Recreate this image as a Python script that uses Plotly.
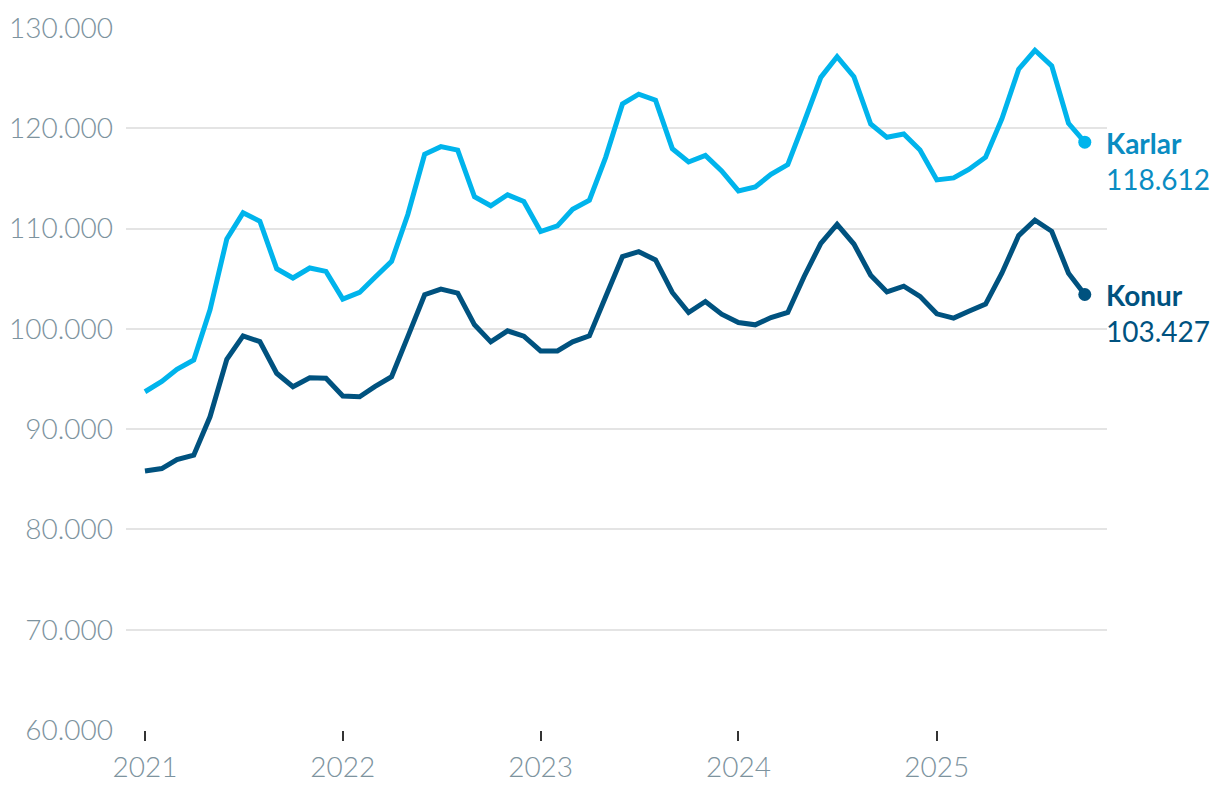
import plotly.graph_objects as go
import pandas as pd

months = pd.date_range("2021-01-01", periods=58, freq="MS").strftime("%Y-%m-%d").tolist()

karlar = [
    93.73, 94.75, 95.97, 96.9, 101.9, 108.97, 111.57, 110.73, 106.0, 105.07,
    106.07, 105.73, 102.97, 103.63, 105.13, 106.73, 111.4, 117.4, 118.17, 117.83,
    113.17, 112.27, 113.37, 112.7, 109.7, 110.27, 111.93, 112.83, 117.1, 122.43,
    123.4, 122.8, 117.97, 116.64, 117.3, 115.75, 113.75, 114.15, 115.4, 116.38,
    120.6, 125.08, 127.14, 125.15, 120.43, 119.1, 119.43, 117.84, 114.85, 115.05,
    115.9, 117.12, 120.93, 125.89, 127.78, 126.23, 120.5, 118.612,
]
konur = [
    85.83, 86.07, 86.97, 87.4, 91.23, 96.97, 99.3, 98.73, 95.57, 94.23,
    95.13, 95.07, 93.3, 93.23, 94.23, 95.23, 99.23, 103.4, 103.97, 103.57,
    100.4, 98.7, 99.8, 99.27, 97.8, 97.8, 98.7, 99.3, 103.2, 107.2,
    107.7, 106.87, 103.63, 101.63, 102.73, 101.47, 100.63, 100.4, 101.13, 101.63,
    105.2, 108.53, 110.43, 108.46, 105.35, 103.68, 104.25, 103.24, 101.5, 101.07,
    101.75, 102.47, 105.55, 109.3, 110.84, 109.73, 105.55, 103.427,
]
karlar = [round(v * 1000) for v in karlar]
konur = [round(v * 1000) for v in konur]

series = [
    ("Karlar", karlar, "#00b4ec", "#0a8cc2"),
    ("Konur", konur, "#00527f", "#00527f"),
]

y_ticks = [60000, 70000, 80000, 90000, 100000, 110000, 120000, 130000]
x_ticks = ["2021-01-01", "2022-01-01", "2023-01-01", "2024-01-01", "2025-01-01"]
x_tick_text = ["2021", "2022", "2023", "2024", "2025"]


def fmt(v):
    return f"{v:,}".replace(",", ".")


fig = go.Figure()
for name, vals, lc, tc in series:
    fig.add_trace(go.Scatter(
        x=months, y=vals, mode="lines", name=name,
        line=dict(color=lc, width=5), hoverinfo="skip",
    ))
    fig.add_trace(go.Scatter(
        x=[months[-1]], y=[vals[-1]], mode="markers",
        marker=dict(color=lc, size=13), hoverinfo="skip",
    ))
    fig.add_annotation(
        x=months[-1], y=vals[-1], xref="x", yref="y",
        text=f"<b>{name}</b><br>{fmt(vals[-1])}",
        showarrow=False, xanchor="left", yanchor="middle", align="left",
        xshift=19, yshift=-19,
        font=dict(family="Lato", size=28, color=tc),
    )

fig.update_layout(
    width=1220, height=796,
    margin=dict(l=118, r=121, t=20, b=74, autoexpand=False),
    paper_bgcolor="white", plot_bgcolor="white",
    showlegend=False,
    separators=",.",
    font=dict(family="Lato"),
)
fig.update_xaxes(
    type="date", automargin=False,
    range=["2020-11-27", "2025-11-11"],
    tickvals=x_ticks, ticktext=x_tick_text,
    ticks="outside", ticklen=10, tickwidth=2, tickcolor="#333333",
    ticklabelstandoff=2,
    showgrid=False, showline=False, zeroline=False,
    tickfont=dict(family="Lato", size=28, color="#7d939e", weight=300),
)
fig.update_yaxes(
    range=[60000, 130000], automargin=False,
    tickvals=y_ticks, tickformat=",d",
    showgrid=True, gridcolor="#e4e4e4", gridwidth=2,
    zeroline=False, showline=False, ticks="",
    ticklabelstandoff=12,
    tickfont=dict(family="Lato", size=28, color="#7d939e", weight=300),
)

fig.write_html("out.html")
